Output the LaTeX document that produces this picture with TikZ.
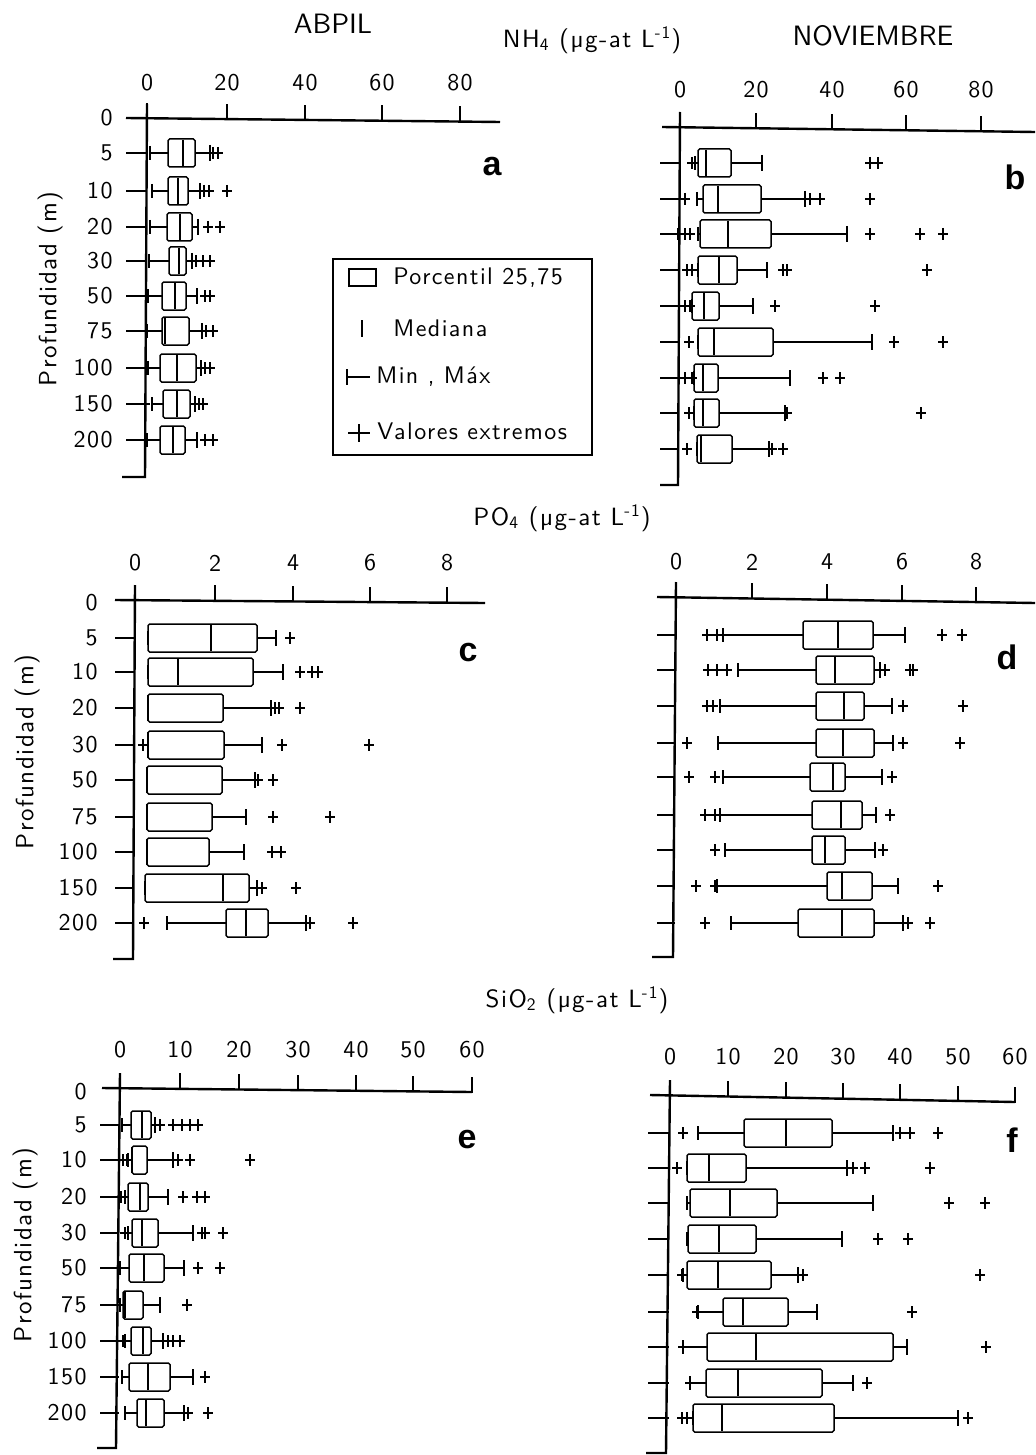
\documentclass[tikz,border=0pt]{standalone}
\usepackage{fontspec}
\newfontfamily\lf{lmsans10-regular.otf}[LetterSpace=6]
\newfontfamily\lfn{lmsans10-regular.otf}
\newfontfamily\pf{Liberation Sans}
\tikzset{
  ax/.style={line width=1.2pt},
  bx/.style={line width=0.75pt, rounded corners=0.8pt},
  wsk/.style={line width=0.65pt},
  md/.style={line width=0.6pt},
  ext/.style={line width=0.6pt},
  tk/.style={font=\lf\fontsize{12}{13}\selectfont, inner sep=0pt},
  dl/.style={font=\lf\fontsize{12}{13}\selectfont, inner sep=0pt, anchor=east},
  yl/.style={font=\lf\fontsize{12.5}{14}\selectfont, inner sep=0pt, rotate=90},
  ttl/.style={font=\lf\fontsize{12.5}{14}\selectfont, inner sep=0pt},
  big/.style={font=\lfn\fontsize{14}{16}\selectfont, inner sep=0pt},
  pl/.style={font=\pf\bfseries\fontsize{17}{19}\selectfont, inner sep=0pt},
  lg/.style={font=\lf\fontsize{12}{14}\selectfont, inner sep=0pt, anchor=west}
}
% box plot: y, min, q1, median, q3, max, extremes
\newcommand\bxp[7]{%
  \draw[wsk] (#2,#1) -- (#3,#1) (#5,#1) -- (#6,#1);
  \draw[wsk] (#2,#1-7) -- (#2,#1+7) (#6,#1-8) -- (#6,#1+8);
  \draw[bx] (#3,#1-14) rectangle (#5,#1+14);
  \draw[md] (#4,#1-13) -- (#4,#1+13);
  \foreach \e in {#7}{\draw[ext] (\e-5,#1) -- (\e+5,#1) (\e,#1-6) -- (\e,#1+6);}%
}
% top axis: xL, yL, xR, yR, list of tick x/label, label y
\newcommand\topax[6]{%
  \draw[ax] (#1,#2) -- (#3,#4);
  \foreach \x/\l in {#5}{
    \draw[ax] (\x,{#2+(\x-#1)*(#4-#2)/(#3-#1)+0.6}) -- ++(0,-16);
    \node[tk] at (\x,#6) {\l};}%
}
\begin{document}
\begin{tikzpicture}[x=0.5pt,y=-0.5pt]
\useasboundingbox (0,0) rectangle (1035,1455);
\fill[white] (0,0) rectangle (1035,1455);

% ---------- titles ----------
\node[big] (tA) at (333,24) {ABPIL};
\node[big] (tN) at (873,36) {NOVIEMBRE};
\node[ttl] (nh) at (592,40) {NH\textsubscript{4} (µg-at L\textsuperscript{-1})};
\node[ttl] (po) at (562,518) {PO\textsubscript{4} (µg-at L\textsuperscript{-1})};
\node[ttl] (si) at (577,1000) {SiO\textsubscript{2} (µg-at L\textsuperscript{-1})};

% ---------- panel a ----------
\topax{126}{118}{500}{122}{147/0,227/20,305/40,382/60,460/80}{83}
\draw[ax] (147,104) -- (145,477) -- (122,477);
\foreach \y/\l in {118/0,153/5,191/10,227/20,261/30,296/50,331/75,368/100,404/150,440/200}{
  \node[dl] at (113,\y) {\l};}
\foreach \y in {153,191,227,261,296,331,368,404,440}{\draw[ax] (126,\y) -- (146,\y);}
\node[yl] (ya) at (50,289) {Profundidad (m)};
\bxp{153}{150}{168}{183}{195}{210}{213,218}
\bxp{191}{152}{168}{178}{188}{200}{204,209,227}
\bxp{227}{150}{167}{180}{192}{198}{208,220}
\bxp{261}{149}{169}{179}{186}{192}{196,203,210}
\bxp{296}{148}{162}{175}{186}{197}{205,210}
\bxp{331}{147}{162}{165}{189}{202}{206,213}
\bxp{368}{148}{160}{177}{196}{201}{205,210}
\bxp{404}{152}{163}{177}{190}{195}{145,199,203}
\bxp{440}{147}{160}{173}{185}{197}{205,213}
\node[pl] (la) at (492,167) {a};

% ---------- legend ----------
\draw[line width=1pt] (333,259) rectangle (592,455);
\draw[line width=1.1pt] (349,269) rectangle (376,286);
\node[lg] at (393,278) {Porcentil 25,75};
\draw[line width=1pt] (362,320) -- (362,337);
\node[lg] at (393,328) {Mediana};
\draw[line width=0.9pt] (347,369) -- (347,385) (347,377) -- (370,377);
\node[lg] at (376,377) {Min , Máx};
\draw[line width=0.9pt] (348,433) -- (370,433) (359,424) -- (359,442);
\node[lg] at (377,431) {Valores extremos};

% ---------- panel b ----------
\topax{662}{127}{1035}{132}{680/0,756/20,832/40,906/60,981/80}{90}
\draw[ax] (680,112) -- (678,485) -- (660,485);
\foreach \y in {163,199,234,270,306,342,378,413,449}{\draw[ax] (660,\y) -- (679,\y);}
\bxp{163}{695}{698}{706}{731}{762}{692,870,878}
\bxp{199}{697}{703}{718}{761}{805}{685,810,820,870}
\bxp{234}{698}{700}{728}{771}{847}{678,685,690,870,920,943}
\bxp{270}{698}{698}{719}{737}{767}{687,692,783,787,927}
\bxp{306}{692}{692}{704}{719}{753}{685,690,775,875}
\bxp{342}{698}{698}{714}{773}{872}{689,894,943}
\bxp{378}{694}{694}{703}{718}{790}{685,692,823,840}
\bxp{413}{694}{694}{703}{719}{785}{689,787,921}
\bxp{449}{697}{697}{701}{732}{769}{687,772,783}
\node[pl] (lb) at (1015,177) {b};

% ---------- panel c ----------
\topax{115}{600}{485}{603}{135/0,215/2,293/4,370/6,447/8}{563}
\draw[ax] (135,585) -- (133,959) -- (113,959);
\foreach \y/\l in {603/0,638/5,672/10,708/20,745/30,780/50,817/75,852/100,888/150,923/200}{
  \node[dl] at (98,\y) {\l};}
\foreach \y in {638,672,708,745,780,817,852,888,923}{\draw[ax] (115,\y) -- (134,\y);}
\node[yl] (yc) at (27,752) {Profundidad (m)};
\bxp{638}{148}{148}{211}{257}{276}{290}
\bxp{672}{148}{148}{178}{253}{283}{300,312,318}
\bxp{708}{148}{148}{148}{223}{271}{275,279,300}
\bxp{745}{148}{148}{148}{224}{262}{143,282,369}
\bxp{780}{147}{147}{147}{222}{255}{258,273}
\bxp{817}{147}{147}{147}{212}{246}{273,330}
\bxp{852}{147}{147}{147}{209}{244}{272,281}
\bxp{888}{145}{145}{223}{249}{257}{262,296}
\bxp{923}{167}{226}{246}{268}{306}{144,310,353}
\node[pl] (lc) at (468,653) {c};

% ---------- panel d ----------
\topax{657}{597}{1035}{603}{676/0,752/2,827/4,902/6,976/8}{562}
\draw[ax] (676,582) -- (673,957) -- (652,957);
\foreach \y in {635,670,706,743,777,815,850,886,923}{\draw[ax] (657,\y) -- (675,\y);}
\bxp{635}{723}{803}{838}{873}{905}{707,717,942,962}
\bxp{670}{738}{816}{835}{874}{880}{708,717,727,885,910,913}
\bxp{706}{720}{816}{844}{864}{892}{707,713,903,963}
\bxp{743}{718}{816}{843}{874}{893}{687,903,960}
\bxp{777}{723}{810}{833}{845}{882}{689,715,892}
\bxp{815}{720}{812}{841}{862}{876}{705,715,890}
\bxp{850}{725}{812}{825}{845}{875}{715,883}
\bxp{886}{717}{827}{842}{872}{898}{696,715,938}
\bxp{923}{731}{798}{842}{874}{903}{705,908,930}
\node[pl] (ld) at (1007,657) {d};

% ---------- panel e ----------
\topax{102}{1088}{472}{1092}{120/0,180/10,239/20,298/30,356/40,413/50,472/60}{1050}
\draw[ax] (120,1073) -- (116,1448) -- (97,1448);
\foreach \y/\l in {1092/0,1125/5,1160/10,1197/20,1233/30,1268/50,1305/75,1341/100,1377/150,1413/200}{
  \node[dl] at (87,\y) {\l};}
\foreach \y in {1125,1160,1197,1233,1268,1305,1341,1377,1413}{\draw[ax] (100,\y) -- (119,\y);}
\node[yl] (ye) at (25,1245) {Profundidad (m)};
\bxp{1125}{122}{131}{142}{151}{155}{160,173,182,190,198}
\bxp{1160}{128}{132}{132}{147}{173}{123,127,178,190,250}
\bxp{1197}{125}{128}{140}{148}{168}{121,183,197,205}
\bxp{1233}{128}{132}{142}{158}{193}{125,202,205,223}
\bxp{1268}{120}{129}{144}{164}{184}{198,220}
\bxp{1305}{120}{123}{125}{143}{160}{187}
\bxp{1341}{125}{131}{143}{151}{163}{123,168,173,180}
\bxp{1377}{122}{129}{148}{170}{193}{205}
\bxp{1413}{125}{137}{146}{164}{184}{188,208}
\node[pl] (le) at (467,1140) {e};

% ---------- panel f ----------
\topax{650}{1095}{1015}{1102}{670/0,728/10,786/20,843/30,900/40,958/50,1015/60}{1057}
\draw[ax] (670,1080) -- (666,1453) -- (646,1453);
\foreach \y in {1133,1168,1203,1239,1275,1312,1347,1383,1418}{\draw[ax] (648,\y) -- (669,\y);}
\bxp{1133}{698}{744}{786}{832}{893}{683,900,910,938}
\bxp{1168}{687}{687}{709}{746}{847}{677,853,865,930}
\bxp{1203}{687}{690}{730}{777}{873}{949,985}
\bxp{1239}{687}{688}{719}{756}{842}{878,908}
\bxp{1275}{683}{687}{718}{771}{798}{682,803,980}
\bxp{1312}{698}{723}{743}{788}{817}{697,912}
\bxp{1347}{683}{707}{756}{893}{907}{683,986}
\bxp{1383}{690}{706}{738}{822}{853}{690,867}
\bxp{1418}{693}{693}{722}{834}{958}{682,687,968}
\node[pl] (lf) at (1012,1140) {f};
\end{tikzpicture}
\end{document}
